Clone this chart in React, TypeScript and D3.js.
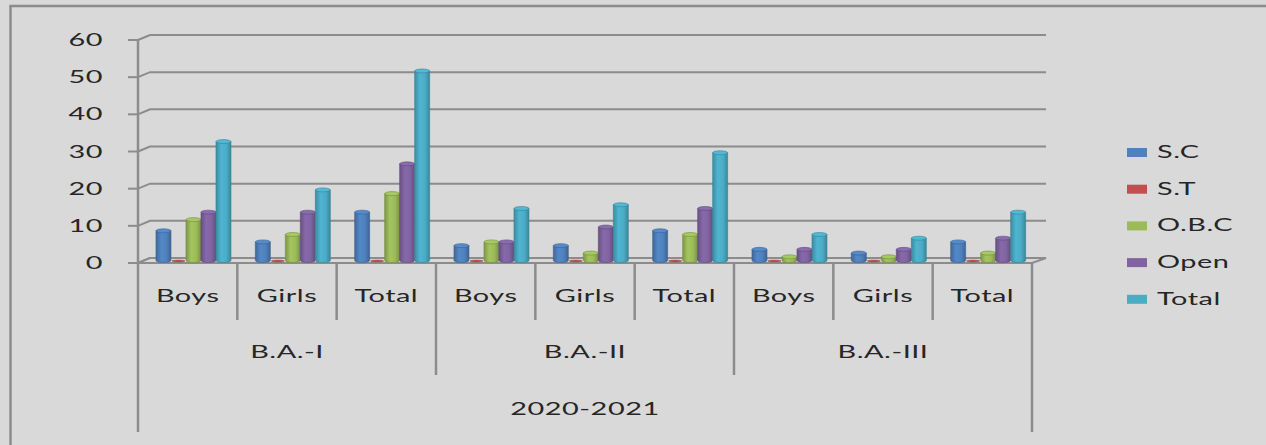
import React, { useEffect, useRef } from "react";
import * as d3 from "d3";

const groups = ["B.A.-I", "B.A.-II", "B.A.-III"];
const subCategories = ["Boys", "Girls", "Total"];
const yearLabel = "2020-2021";
const seriesNames = ["S.C", "S.T", "O.B.C", "Open", "Total"];
const seriesColors = ["#4f81bd", "#c0504d", "#9bbb59", "#8064a2", "#4bacc6"];
const yTicks = [0, 10, 20, 30, 40, 50, 60];

// one value per category (Boys, Girls, Total) x (B.A.-I, B.A.-II, B.A.-III)
const scValues = [8, 5, 13, 4, 4, 8, 3, 2, 5];
const stValues = [0, 0, 0, 0, 0, 0, 0, 0, 0];
const obcValues = [11, 7, 18, 5, 2, 7, 1, 1, 2];
const openValues = [13, 13, 26, 5, 9, 14, 3, 3, 6];
const totalValues = [32, 19, 51, 14, 15, 29, 7, 6, 13];

const seriesValues = [scValues, stValues, obcValues, openValues, totalValues];

const W = 1266;
const H = 445;
const FONT = "Lato, 'Open Sans', sans-serif";
const SX = 1.75; // the picture's text is stretched sideways

export default function App() {
  const ref = useRef<SVGSVGElement | null>(null);

  useEffect(() => {
    const svg = d3.select(ref.current);
    svg.selectAll("*").remove();

    const left = 138;
    const right = 1032;
    const depthX = 12;
    const depthY = 5;
    const gridColor = "#8c8c8c";

    const categories = groups.flatMap((g) => subCategories.map((s) => `${g}|${s}`));

    const x = d3.scaleBand().domain(categories).range([left, right]).padding(0);
    const bw = x.bandwidth();
    const xSub = d3
      .scaleBand()
      .domain(seriesNames)
      .range([bw * 0.181, bw * 0.181 + 75])
      .padding(0);
    const y = d3.scaleLinear().domain([0, 60]).range([263, 40]);

    const defs = svg.append("defs");
    seriesColors.forEach((c, i) => {
      const g = defs
        .append("linearGradient")
        .attr("id", `cyl${i}`)
        .attr("x1", "0%")
        .attr("x2", "100%");
      const base = d3.color(c)!;
      g.append("stop").attr("offset", "0%").attr("stop-color", base.darker(0.6).formatHex());
      g.append("stop").attr("offset", "35%").attr("stop-color", base.brighter(0.15).formatHex());
      g.append("stop").attr("offset", "70%").attr("stop-color", c);
      g.append("stop").attr("offset", "100%").attr("stop-color", base.darker(0.7).formatHex());
    });

    // background and outer frame
    svg.append("rect").attr("width", W).attr("height", H).attr("fill", "#d9d9d9");
    svg
      .append("rect")
      .attr("x", 10.5)
      .attr("y", 6)
      .attr("width", W + 20)
      .attr("height", H + 20)
      .attr("fill", "none")
      .attr("stroke", "#8c8c8c")
      .attr("stroke-width", 2.5);

    const label = (
      tx: number,
      ty: number,
      text: string,
      anchor: string
    ) => {
      svg
        .append("text")
        .attr("transform", `translate(${tx},${ty}) scale(${SX},1)`)
        .attr("text-anchor", anchor)
        .style("font-family", FONT)
        .style("font-size", "16.5px")
        .style("letter-spacing", "0.3px")
        .attr("fill", "#262626")
        .text(text);
    };

    // gridlines on back wall + diagonal on side wall
    yTicks.forEach((t) => {
      const yy = y(t);
      svg
        .append("path")
        .attr("d", `M${left},${yy} L${left + depthX},${yy - depthY} L${right + depthX + 2},${yy - depthY}`)
        .attr("fill", "none")
        .attr("stroke", gridColor)
        .attr("stroke-width", 2);
      svg
        .append("line")
        .attr("x1", left - 10)
        .attr("x2", left)
        .attr("y1", yy)
        .attr("y2", yy)
        .attr("stroke", gridColor)
        .attr("stroke-width", 2);
      label(103, yy + 6, String(t), "end");
    });

    // floor
    const y0 = y(0);
    svg
      .append("path")
      .attr(
        "d",
        `M${left},${y0} L${right},${y0} L${right + depthX + 2},${y0 - depthY} L${left + depthX},${y0 - depthY} Z`
      )
      .attr("fill", "#d9d9d9")
      .attr("stroke", gridColor)
      .attr("stroke-width", 2);

    // value axis
    svg
      .append("line")
      .attr("x1", left)
      .attr("x2", left)
      .attr("y1", y(60))
      .attr("y2", y0)
      .attr("stroke", gridColor)
      .attr("stroke-width", 2.5);

    // cylinders
    const ry = 2;
    const barDrop = 2.5;
    categories.forEach((cat, ci) => {
      seriesNames.forEach((s, si) => {
        const v = seriesValues[si][ci];
        const bx = (x(cat) as number) + (xSub(s) as number);
        const w = xSub.bandwidth();
        const by = y(0) - barDrop;
        const ty = y(v) - barDrop;
        const col = seriesColors[si];
        const edge = d3.color(col)!.darker(0.8).formatHex();
        if (v === 0) {
          // a zero value leaves only the flat disc on the floor
          svg
            .append("ellipse")
            .attr("cx", bx + w / 2)
            .attr("cy", by + 0.5)
            .attr("rx", w / 2 - 1)
            .attr("ry", 1)
            .attr("fill", col)
            .attr("stroke", edge)
            .attr("stroke-width", 0.4);
          return;
        }
        svg
          .append("path")
          .attr(
            "d",
            `M${bx},${ty} L${bx},${by} A${w / 2},${ry} 0 0 0 ${bx + w},${by} L${bx + w},${ty} Z`
          )
          .attr("fill", `url(#cyl${si})`)
          .attr("stroke", edge)
          .attr("stroke-width", 0.6);
        svg
          .append("ellipse")
          .attr("cx", bx + w / 2)
          .attr("cy", ty)
          .attr("rx", w / 2)
          .attr("ry", ry)
          .attr("fill", d3.color(col)!.brighter(0.2).formatHex())
          .attr("stroke", edge)
          .attr("stroke-width", 0.6);
      });
    });

    // multi-level category axis
    const line = (xx: number, y1: number, y2: number) =>
      svg
        .append("line")
        .attr("x1", xx)
        .attr("x2", xx)
        .attr("y1", y1)
        .attr("y2", y2)
        .attr("stroke", gridColor)
        .attr("stroke-width", 2.5);

    categories.forEach((cat, ci) => {
      const cx = (x(cat) as number) + bw / 2;
      label(cx, 302, subCategories[ci % 3], "middle");
      if (ci > 0 && ci % 3 !== 0) line(x(cat) as number, y0, 320);
    });
    groups.forEach((g, gi) => {
      const gx0 = x(`${g}|Boys`) as number;
      label(gx0 + (bw * 3) / 2, 358, g, "middle");
      if (gi > 0) line(gx0, y0, 375);
    });
    line(left, y0, 432);
    line(right, y0, 432);
    label((left + right) / 2, 415, yearLabel, "middle");

    // legend
    seriesNames.forEach((s, i) => {
      const base = 158 + i * 36.7;
      svg
        .append("rect")
        .attr("x", 1127)
        .attr("y", base - 10)
        .attr("width", 20)
        .attr("height", 9)
        .attr("fill", seriesColors[i]);
      label(1157, base, s, "start");
    });
  }, []);

  return (
    <svg
      ref={ref}
      width={W}
      height={H}
      style={{ position: "absolute", left: 0, top: 0, display: "block" }}
    />
  );
}
